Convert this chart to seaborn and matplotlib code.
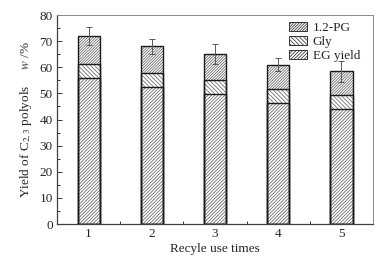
import seaborn as sns
import pandas as pd
import matplotlib.pyplot as plt
import matplotlib
import numpy as np
from matplotlib.ticker import MultipleLocator
from matplotlib.patches import Patch

sns.set_style('white')
plt.rcParams['font.family'] = ['Liberation Serif', 'DejaVu Serif']
plt.rcParams['mathtext.fontset'] = 'stix'
plt.rcParams['hatch.linewidth'] = 0.55

cycles = [1, 2, 3, 4, 5]
eg_yield = [56.0, 52.3, 49.9, 46.4, 44.2]
gly = [5.3, 5.4, 5.1, 5.4, 5.3]
pg = [10.7, 10.3, 10.1, 9.2, 9.0]
total_err = [3.3, 3.0, 3.7, 2.6, 4.0]
legend_labels = ['1.2-PG', 'Gly', 'EG yield']

eg_gly = [a + b for a, b in zip(eg_yield, gly)]
total = [a + b for a, b in zip(eg_gly, pg)]

hatch_pg = '/' * 12
hatch_gly = '\\' * 8
hatch_eg = '/' * 10
hatch_col = '0.4'

fig = plt.figure(figsize=(3.89, 2.64), dpi=100)
ax = fig.add_axes([0.1465, 0.1515, 0.8125, 0.7915])

# hatched fills (grey lines), then black outlines on top
bar_kw = dict(native_scale=True, width=0.35, color='white', saturation=1,
              edgecolor=hatch_col, linewidth=0, errorbar=None, ax=ax)
sns.barplot(x=cycles, y=total, hatch=hatch_pg, **bar_kw)
sns.barplot(x=cycles, y=eg_gly, hatch=hatch_gly, **bar_kw)
sns.barplot(x=cycles, y=eg_yield, hatch=hatch_eg, **bar_kw)
for vals in [total, eg_gly, eg_yield]:
    sns.barplot(x=cycles, y=vals, native_scale=True, width=0.35, fill=False,
                color='0.1', saturation=1, linewidth=1.0, errorbar=None, ax=ax)

ax.errorbar(cycles, total, yerr=total_err, fmt='none', ecolor='0.35',
            elinewidth=0.7, capsize=2.5, capthick=0.7)

ax.set_xlim(0.5, 5.5)
ax.set_ylim(0, 80)
ax.set_xticks(cycles)
ax.set_xticklabels([str(c) for c in cycles])
ax.set_xticks([1.5, 2.5, 3.5, 4.5], minor=True)
ax.yaxis.set_major_locator(MultipleLocator(10))
ax.yaxis.set_minor_locator(MultipleLocator(5))
ax.tick_params(which='both', direction='in', labelsize=9.5, top=False, right=False,
               left=True, bottom=True, color='0.2', width=0.7, pad=3)
ax.tick_params(which='major', length=3.5)
ax.tick_params(which='minor', length=2)

for s in ['left', 'bottom']:
    ax.spines[s].set_color('0.25')
    ax.spines[s].set_linewidth(0.9)
for s in ['top', 'right']:
    ax.spines[s].set_color('0.55')
    ax.spines[s].set_linewidth(0.7)

ax.set_xlabel('Recyle use times', fontsize=9.5, labelpad=2)
ax.set_ylabel('Yield of C$_{2,3}$ polyols     $w$ /%', fontsize=9.5, labelpad=4)

handles = [Patch(facecolor='white', edgecolor='0.2', hatch=hatch_pg, linewidth=0.7),
           Patch(facecolor='white', edgecolor='0.2', hatch=hatch_gly, linewidth=0.7),
           Patch(facecolor='white', edgecolor='0.2', hatch=hatch_eg, linewidth=0.7)]
ax.legend(handles, legend_labels, loc='upper right', frameon=False, fontsize=9.5,
          handlelength=1.4, handleheight=0.7, handletextpad=0.4, labelspacing=0.15,
          borderaxespad=0.1, bbox_to_anchor=(0.98, 1.0))

plt.savefig('out.png', dpi=100)
